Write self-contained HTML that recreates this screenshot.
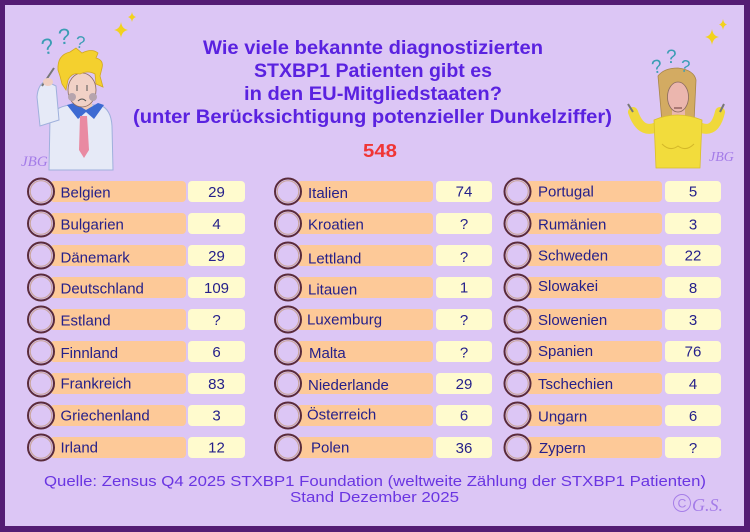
<!DOCTYPE html>
<html><head><meta charset="utf-8">
<style>
html,body{margin:0;padding:0;background:#541c74;}
svg{display:block;}
.t{font-family:"Liberation Sans",sans-serif;font-weight:bold;fill:#5a22e0;font-size:19px;}
.r{font-family:"Liberation Sans",sans-serif;fill:#25208a;font-size:15px;}
.n{font-family:"Liberation Sans",sans-serif;fill:#25208a;font-size:15px;text-anchor:middle;}
.f{font-family:"Liberation Sans",sans-serif;fill:#6a35e2;font-size:15px;}
.q{font-family:"Liberation Sans",sans-serif;fill:#3b9db4;}
.sig{font-family:"Liberation Serif",serif;font-style:italic;fill:#a47ce8;}
</style></head>
<body>
<svg width="750" height="532" viewBox="0 0 750 532" xmlns="http://www.w3.org/2000/svg">
<defs>
<g id="bar1"><rect x="50" y="181" width="136" height="21" rx="4" fill="#fdc998"/><rect x="188" y="181" width="57" height="21" rx="4" fill="#fffbce"/><circle cx="41" cy="191.5" r="13" fill="#dcc6f5" stroke="#5a2b3b" stroke-width="2"/><circle cx="41" cy="191.5" r="10.8" fill="none" stroke="#c9a59c" stroke-width="1.2"/></g>
<g id="bar2"><rect x="297" y="181" width="136" height="21" rx="4" fill="#fdc998"/><rect x="436" y="181" width="56" height="21" rx="4" fill="#fffbce"/><circle cx="288" cy="191.5" r="13" fill="#dcc6f5" stroke="#5a2b3b" stroke-width="2"/><circle cx="288" cy="191.5" r="10.8" fill="none" stroke="#c9a59c" stroke-width="1.2"/></g>
<g id="bar3"><rect x="526" y="181" width="136" height="21" rx="4" fill="#fdc998"/><rect x="665" y="181" width="56" height="21" rx="4" fill="#fffbce"/><circle cx="517.5" cy="191.5" r="13" fill="#dcc6f5" stroke="#5a2b3b" stroke-width="2"/><circle cx="517.5" cy="191.5" r="10.8" fill="none" stroke="#c9a59c" stroke-width="1.2"/></g>
</defs>
<rect x="0" y="0" width="750" height="532" fill="#541c74"/>
<rect x="5" y="5" width="739" height="521" fill="#dcc6f5"/>

<!-- Title -->
<text class="t" x="373" y="54" text-anchor="middle" textLength="340" lengthAdjust="spacingAndGlyphs">Wie viele bekannte diagnostizierten</text>
<text class="t" x="373" y="77" text-anchor="middle" textLength="238" lengthAdjust="spacingAndGlyphs">STXBP1 Patienten gibt es</text>
<text class="t" x="373" y="100" text-anchor="middle" textLength="258" lengthAdjust="spacingAndGlyphs">in den EU-Mitgliedstaaten?</text>
<text class="t" x="372.5" y="123" text-anchor="middle" textLength="479" lengthAdjust="spacingAndGlyphs">(unter Berücksichtigung potenzieller Dunkelziffer)</text>
<text x="380" y="157" text-anchor="middle" textLength="34" lengthAdjust="spacingAndGlyphs" style="font-family:'Liberation Sans',sans-serif;font-weight:bold;font-size:18px;fill:#f03535">548</text>

<!-- Boy figure -->
<g>
<path d="M50,118 Q54,107 70,105 L100,105 Q111,109 112,126 L113,170 L49,170 Z" fill="#e6eaf7" stroke="#9fb0dc" stroke-width="1"/>
<path d="M40,126 L37,97 Q38,84 46,81 L56,86 L59,120 Z" fill="#e6eaf7" stroke="#9fb0dc" stroke-width="1"/>
<path d="M42,86 L54,68" stroke="#777" stroke-width="2"/>
<ellipse cx="48" cy="82" rx="5" ry="4" fill="#f0cfc2"/>
<rect x="80" y="100" width="12" height="10" fill="#f0c9b8"/>
<path d="M67,105 L78,119 L86,112 L94,119 L104,105 L98,103 L86,110 L74,103 Z" fill="#3d6ad2"/>
<path d="M80,116 L87,116 L89,150 L84,158 L79,150 Z" fill="#e98aa2"/>
<ellipse cx="82" cy="90" rx="14" ry="17" fill="#f1d1c6" stroke="#8a6a60" stroke-width="0.8"/>
<circle cx="72" cy="97" r="4" fill="#b6a4ad"/>
<circle cx="93" cy="97" r="4" fill="#b6a4ad"/>
<path d="M77,85 L77,91 M87,85 L87,91" stroke="#555" stroke-width="1"/>
<path d="M78,101 Q82,97 86,101" stroke="#555" stroke-width="1" fill="none"/>
<path d="M58,70 Q57,55 70,52 L76,48 L82,53 Q92,48 98,53 L96,58 Q104,60 102,68 L100,76 L103,87 L96,84 L95,74 Q88,70 80,74 Q72,72 68,80 L66,90 L62,84 L60,76 Z" fill="#f4d02e" stroke="#d2a820" stroke-width="0.8"/>
</g>
<text class="q" x="41" y="54" font-size="22" transform="rotate(-12 47 45)">?</text>
<text class="q" x="58" y="44" font-size="22" transform="rotate(-5 64 35)">?</text>
<text class="q" x="76" y="48" font-size="17" transform="rotate(8 81 40)">?</text>
<path d="M121,22 Q122,29 128,30 Q122,31 121,38 Q120,31 114,30 Q120,29 121,22 Z" fill="#f2d21c"/>
<path d="M132,12 Q132.6,16 136,17 Q132.6,18 132,22 Q131.4,18 128,17 Q131.4,16 132,12 Z" fill="#f2d21c"/>
<text class="sig" x="21" y="166" font-size="15">JBG</text>

<!-- Woman figure -->
<g>
<path d="M662,124 Q642,138 633,112" stroke="#f0d83a" stroke-width="10" fill="none" stroke-linecap="round"/>
<path d="M694,124 Q714,138 720,112" stroke="#f0d83a" stroke-width="10" fill="none" stroke-linecap="round"/>
<path d="M628,104 L633,112 M724,104 L720,112" stroke="#777" stroke-width="2"/>
<path d="M662,122 L658,76 Q664,68 678,68 Q694,70 696,80 L694,122 Z" fill="#d3ab62" stroke="#a8864a" stroke-width="0.8"/>
<rect x="672" y="106" width="13" height="12" fill="#ebb8ae"/>
<path d="M654,120 Q677,110 702,120 L700,168 L656,168 Z" fill="#f2dc3c" stroke="#d9bf2a" stroke-width="0.8"/>
<path d="M662,144 Q670,152 678,146 Q686,152 694,144" stroke="#d4b828" stroke-width="1" fill="none"/>
<ellipse cx="678" cy="97" rx="10.5" ry="15" fill="#ebb6ae" stroke="#8a6a60" stroke-width="0.8"/>
<path d="M666,86 Q672,76 690,84 L688,78 Q678,70 666,80 Z" fill="#d3ab62"/>
<path d="M674,108 L682,108" stroke="#6a3a3a" stroke-width="1"/>
</g>
<text class="q" x="651" y="73" font-size="19" transform="rotate(-10 656 64)">?</text>
<text class="q" x="666" y="63" font-size="19">?</text>
<text class="q" x="681" y="72" font-size="17" transform="rotate(10 686 64)">?</text>
<path d="M712,29 Q713,36 719,37 Q713,38 712,45 Q711,38 705,37 Q711,36 712,29 Z" fill="#f2d21c"/>
<path d="M723,19 Q723.6,23.5 727,24.5 Q723.6,25.5 723,30 Q722.4,25.5 719,24.5 Q722.4,23.5 723,19 Z" fill="#f2d21c"/>
<text class="sig" x="709" y="161" font-size="14">JBG</text>

<!-- Column 1 -->
<use href="#bar1"/><text class="r" x="60.5" y="197.5">Belgien</text><text class="n" x="216.5" y="197">29</text>
<g transform="translate(0,32)"><use href="#bar1"/><text class="r" x="60.5" y="197.5">Bulgarien</text><text class="n" x="216.5" y="197">4</text></g>
<g transform="translate(0,64)"><use href="#bar1"/><text class="r" x="60.5" y="198.5">Dänemark</text><text class="n" x="216.5" y="197">29</text></g>
<g transform="translate(0,96)"><use href="#bar1"/><text class="r" x="60.5" y="197.5">Deutschland</text><text class="n" x="216.5" y="197">109</text></g>
<g transform="translate(0,128)"><use href="#bar1"/><text class="r" x="60.5" y="197.5">Estland</text><text class="n" x="216.5" y="197">?</text></g>
<g transform="translate(0,160)"><use href="#bar1"/><text class="r" x="60.5" y="198">Finnland</text><text class="n" x="216.5" y="197">6</text></g>
<g transform="translate(0,192)"><use href="#bar1"/><text class="r" x="60.5" y="196.5">Frankreich</text><text class="n" x="216.5" y="197">83</text></g>
<g transform="translate(0,224)"><use href="#bar1"/><text class="r" x="60.5" y="196.5">Griechenland</text><text class="n" x="216.5" y="196.5">3</text></g>
<g transform="translate(0,256)"><use href="#bar1"/><text class="r" x="60.5" y="196.5">Irland</text><text class="n" x="216.5" y="196.5">12</text></g>

<!-- Column 2 -->
<use href="#bar2"/><text class="r" x="308" y="198">Italien</text><text class="n" x="464" y="196.5">74</text>
<g transform="translate(0,32)"><use href="#bar2"/><text class="r" x="308" y="197.5">Kroatien</text><text class="n" x="464" y="197">?</text></g>
<g transform="translate(0,64)"><use href="#bar2"/><text class="r" x="308" y="199.5">Lettland</text><text class="n" x="464" y="198">?</text></g>
<g transform="translate(0,96)"><use href="#bar2"/><text class="r" x="308" y="198.5">Litauen</text><text class="n" x="464" y="196.5">1</text></g>
<g transform="translate(0,128)"><use href="#bar2"/><text class="r" x="307" y="196.5">Luxemburg</text><text class="n" x="464" y="197">?</text></g>
<g transform="translate(0,160)"><use href="#bar2"/><text class="r" x="309" y="198">Malta</text><text class="n" x="464" y="197.5">?</text></g>
<g transform="translate(0,192)"><use href="#bar2"/><text class="r" x="308" y="198">Niederlande</text><text class="n" x="464" y="197">29</text></g>
<g transform="translate(0,224)"><use href="#bar2"/><text class="r" x="307" y="195.5">Österreich</text><text class="n" x="464" y="196.5">6</text></g>
<g transform="translate(0,256)"><use href="#bar2"/><text class="r" x="311" y="196.5">Polen</text><text class="n" x="464" y="197">36</text></g>

<!-- Column 3 -->
<use href="#bar3"/><text class="r" x="538" y="196.5">Portugal</text><text class="n" x="693" y="196.5">5</text>
<g transform="translate(0,32)"><use href="#bar3"/><text class="r" x="538" y="197.5">Rumänien</text><text class="n" x="693" y="197.5">3</text></g>
<g transform="translate(0,64)"><use href="#bar3"/><text class="r" x="538" y="196.5">Schweden</text><text class="n" x="693" y="196.5">22</text></g>
<g transform="translate(0,96)"><use href="#bar3"/><text class="r" x="538" y="195">Slowakei</text><text class="n" x="693" y="197">8</text></g>
<g transform="translate(0,128)"><use href="#bar3"/><text class="r" x="538" y="197">Slowenien</text><text class="n" x="693" y="197">3</text></g>
<g transform="translate(0,160)"><use href="#bar3"/><text class="r" x="538" y="196">Spanien</text><text class="n" x="693" y="196.5">76</text></g>
<g transform="translate(0,192)"><use href="#bar3"/><text class="r" x="538" y="197">Tschechien</text><text class="n" x="693" y="197">4</text></g>
<g transform="translate(0,224)"><use href="#bar3"/><text class="r" x="538" y="197.5">Ungarn</text><text class="n" x="693" y="197">6</text></g>
<g transform="translate(0,256)"><use href="#bar3"/><text class="r" x="539" y="197">Zypern</text><text class="n" x="693" y="197">?</text></g>

<!-- Footer -->
<text class="f" x="44" y="486" textLength="662" lengthAdjust="spacingAndGlyphs">Quelle: Zensus Q4 2025 STXBP1 Foundation (weltweite Zählung der STXBP1 Patienten)</text>
<text class="f" x="290" y="502" textLength="169" lengthAdjust="spacingAndGlyphs">Stand Dezember 2025</text>
<circle cx="682" cy="503" r="8.5" fill="none" stroke="#a67ee8" stroke-width="1"/>
<text x="682" y="507.5" text-anchor="middle" style="font-family:'Liberation Sans',sans-serif;font-size:12px;fill:#a67ee8">C</text>
<text class="sig" x="692" y="511" font-size="18">G.S.</text>
</svg>
</body></html>
